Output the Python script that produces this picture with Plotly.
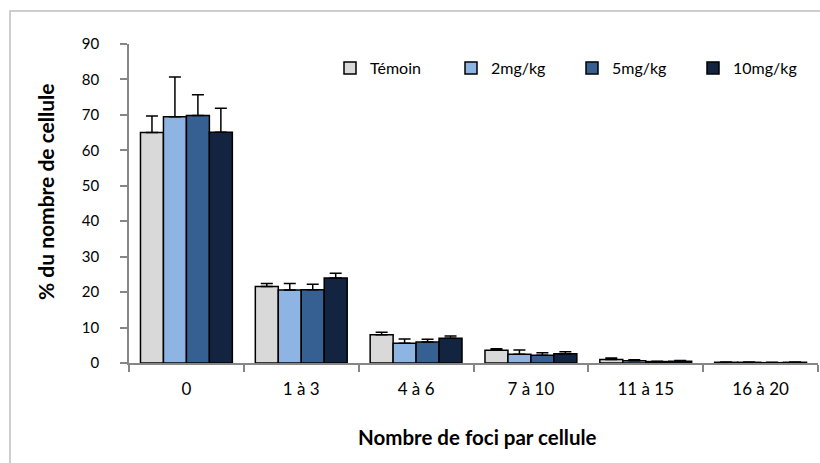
import plotly.graph_objects as go

# Foci count classes (x categories)
categories = ["0", "1 à 3", "4 à 6", "7 à 10", "11 à 15", "16 à 20"]

# Mean % of cells per group and upper error (SD)
temoin = [65.0, 21.6, 8.0, 3.6, 1.0, 0.2]
temoin_err = [4.7, 0.8, 0.7, 0.4, 0.4, 0.1]

mg2 = [69.5, 20.6, 5.6, 2.5, 0.6, 0.2]
mg2_err = [11.2, 1.8, 1.2, 1.2, 0.3, 0.1]

mg5 = [69.8, 20.7, 5.9, 2.2, 0.4, 0.1]
mg5_err = [5.9, 1.5, 0.8, 0.7, 0.1, 0.1]

mg10 = [65.1, 24.0, 7.0, 2.6, 0.5, 0.2]
mg10_err = [6.8, 1.3, 0.6, 0.6, 0.2, 0.1]

series = [
    ("Témoin", temoin, temoin_err, "#D9D9D9"),
    ("2mg/kg", mg2, mg2_err, "#8DB4E2"),
    ("5mg/kg", mg5, mg5_err, "#376092"),
    ("10mg/kg", mg10, mg10_err, "#12243F"),
]

FONT = "Lato"

fig = go.Figure()
for name, vals, err, color in series:
    fig.add_trace(go.Bar(
        name=name,
        x=categories,
        y=vals,
        marker=dict(color=color, line=dict(color="#000000", width=1.5)),
        error_y=dict(type="data", array=err, arrayminus=[0] * len(err),
                     symmetric=False, color="#000000", thickness=1.5, width=6),
    ))

W, H = 820, 463
L, R, T, B = 129, 2, 44, 100
pw, ph = W - L - R, H - T - B

def px_x(p):
    return (p - L) / pw

def px_y(p):
    return (H - B - p) / ph

fig.update_layout(
    width=W, height=H,
    margin=dict(l=L, r=R, t=T, b=B),
    paper_bgcolor="white", plot_bgcolor="white",
    barmode="group", bargap=0.2, bargroupgap=0,
    font=dict(family=FONT, size=15, color="#000000"),
    showlegend=True,
    legend=dict(orientation="h", x=px_x(330), y=px_y(68), xanchor="left", yanchor="middle",
                font=dict(family=FONT, size=16), itemwidth=30,
                entrywidthmode="pixels", entrywidth=76,
                bgcolor="rgba(0,0,0,0)", traceorder="normal"),
    xaxis=dict(
        type="category", range=[-0.5, 5.5],
        showline=True, linecolor="#868686", linewidth=1.5,
        ticks="outside", tickson="boundaries", ticklen=7, tickcolor="#868686", tickwidth=1.5,
        showgrid=False, ticklabelstandoff=10,
        tickfont=dict(family=FONT, size=17),
    ),
    yaxis=dict(
        range=[0, 90], dtick=10, tick0=0,
        showline=True, linecolor="#868686", linewidth=1.5,
        ticks="outside", ticklen=7, tickcolor="#868686", tickwidth=1.5,
        showgrid=False, zeroline=False, ticklabelstandoff=18,
        tickfont=dict(family=FONT, size=15),
    ),
    annotations=[
        dict(text="<b>% du nombre de cellule</b>", textangle=-90,
             xref="paper", yref="paper", x=px_x(45), y=px_y(192),
             xanchor="center", yanchor="middle", showarrow=False,
             font=dict(family=FONT, size=21)),
        dict(text="<b>Nombre de foci par cellule</b>",
             xref="paper", yref="paper", x=px_x(477), y=px_y(437),
             xanchor="center", yanchor="middle", showarrow=False,
             font=dict(family=FONT, size=20.5)),
    ],
    shapes=[
        dict(type="rect", xref="paper", yref="paper",
             x0=px_x(10), x1=px_x(840), y0=px_y(480), y1=px_y(11),
             line=dict(color="#BFBFBF", width=1.5), fillcolor="rgba(0,0,0,0)", layer="below"),
    ],
)

fig.write_html("out.html")
